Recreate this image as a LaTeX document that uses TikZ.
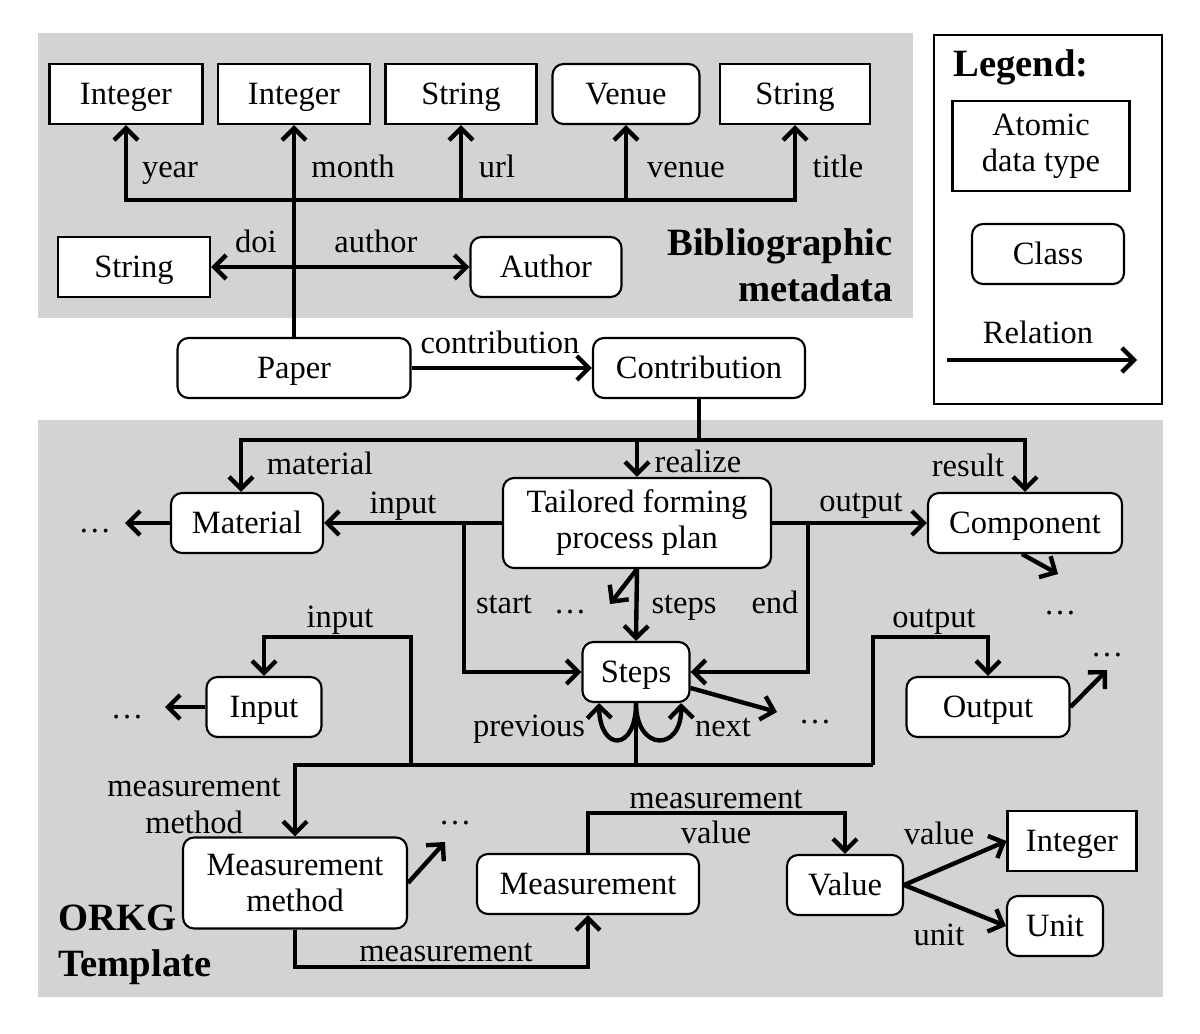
\documentclass[tikz,border=0pt]{standalone}
\usepackage{fontspec}
\setmainfont{Liberation Serif}
\usepackage{tikz}
\usetikzlibrary{arrows.meta, calc}
\definecolor{bggray}{RGB}{211,211,211}

\begin{document}
\begin{tikzpicture}[x=0.02cm, y=-0.02cm,
	font=\fontsize{18.5}{20.5}\selectfont,
	oneline/.style={text height=14pt, text depth=2pt},
	boxbase/.style={draw, line width=1.2pt, fill=white, minimum height=1.2cm, inner sep=2pt},
	atom/.style={boxbase, oneline},
	cls/.style={atom, rounded corners=0.22cm},
	atomm/.style={boxbase, align=center},
	clsm/.style={boxbase, align=center, rounded corners=0.22cm},
	rel/.style={line width=2.5pt, -{Straight Barb[length=2.4mm,width=4.8mm]}},
	both/.style={rel, {Straight Barb[length=2.4mm,width=4.8mm]}-{Straight Barb[length=2.4mm,width=4.8mm]}},
	line/.style={line width=2.5pt},
	lbl/.style={inner sep=1pt, oneline},
	head/.style={font=\fontsize{22}{26}\selectfont\bfseries}]
	\useasboundingbox (0,0) rectangle (1200,1034);
	% backgrounds
	\fill[bggray] (38,33) rectangle (913,318);
	\fill[bggray] (38,420) rectangle (1163,997);
	\draw[line width=1.1pt] (934,35) rectangle (1162,404);
	
	% bibliographic metadata
	\node[atom, minimum width=3.06cm](int1) at (126,94){Integer};
	\node[atom, minimum width=3.04cm](int2) at (294,94){Integer};
	\node[atom, minimum width=3.02cm](url) at (461,94){String};
	\node[cls, minimum width=2.94cm](venue) at (626,94){Venue};
	\node[atom, minimum width=3cm](title) at (795,94){String};
	\node[atom, minimum width=3.04cm](doi) at (134,267){String};
	\node[cls, minimum width=3.02cm](author) at (546,267){Author};
	\node[cls, minimum width=4.66cm](paper) at (294,368){Paper};
	\node[cls, minimum width=4.24cm](contrib) at (699,368){Contribution};
	\node[head, align=right, anchor=east](bib) at (899,265){Bibliographic\\metadata};
	
	\coordinate(bar) at (0,200);
	\draw[both] (int1.south) |- (title.south |- bar) -- (title.south);
	\draw[rel] (paper.north) -- (int2.south);
	\draw[rel] (url.south |- bar) -- (url.south);
	\draw[rel] (venue.south |- bar) -- (venue.south);
	\draw[both] (doi.east) -- (author.west);
	\draw[rel] (paper.east) -- (contrib.west);
	
	\node[lbl](year) at (170,167){year};
	\node[lbl](month) at (353,167){month};
	\node[lbl](urll) at (497,167){url};
	\node[lbl](venuel) at (686,167){venue};
	\node[lbl](titlel) at (838,167){title};
	\node[lbl](doil) at (256,242){doi};
	\node[lbl](authorl) at (376,242){author};
	\node[lbl](contribl) at (500,343){contribution};
	
	% legend
	\node[head](leg) at (1021,67){Legend:};
	\node[atomm, minimum width=3.54cm, minimum height=1.8cm](legatom) at (1041,146){Atomic\\data type};
	\node[cls, minimum width=3.04cm](legcls) at (1048,254){Class};
	\node[lbl](legrel) at (1038,333){Relation};
	\coordinate(legA) at (947,360);
	\coordinate(legB) at (1137,360);
	\draw[rel] (legA) -- (legB);
	
	% ORKG template
	\node[cls, minimum width=3.04cm](material) at (247,523){Material};
	\node[clsm, minimum width=5.36cm, minimum height=1.8cm](plan) at (637,523){Tailored forming\\process plan};
	\node[cls, minimum width=3.88cm](component) at (1025,523){Component};
	\node[cls, minimum width=2.14cm](steps) at (636,672){Steps};
	\node[cls, minimum width=2.3cm](input) at (264,707){Input};
	\node[cls, minimum width=3.26cm](output) at (988,707){Output};
	\node[clsm, minimum width=4.48cm, minimum height=1.82cm](method) at (295,883){Measurement\\method};
	\node[cls, minimum width=4.44cm](meas) at (588,884){Measurement};
	\node[cls, minimum width=2.32cm](value) at (845,885){Value};
	\node[atom, minimum width=2.58cm](int3) at (1072,841){Integer};
	\node[cls, minimum width=1.92cm](unit) at (1055,926){Unit};
	\node[head, align=left, anchor=west](orkg) at (52,945){ORKG\\Template};
	
	\coordinate(bbar) at (0,440);
	\draw[line] (contrib.south) -- (contrib.south |- bbar);
	\draw[both] ($(material.north)+(-6,0)$) |- (component.north |- bbar) -- (component.north);
	\draw[rel] (plan.north |- bbar) -- (plan.north);
	\draw[rel] (plan.west) -- (material.east);
	\draw[rel] (plan.east) -- (component.west);
	
	\coordinate(st) at (464,0);
	\coordinate(en) at (808,0);
	\draw[rel] (st |- plan.west) |- (steps.west);
	\draw[rel] (en |- plan.east) |- (steps.east);
	\draw[rel] (plan.south) -- (steps.north);
	\coordinate(planend) at (610,604);
	\draw[rel] (plan.south) -- (planend);
	\coordinate(stepsend) at (777,712);
	\draw[rel] ($(steps.east)+(0,16)$) -- (stepsend);
	\draw[rel] (steps.south) .. controls (636,752) and (600,752) .. ($(steps.south)+(-37,0)$);
	\draw[rel] (steps.south) .. controls (636,752) and (682,752) .. ($(steps.south)+(45,0)$);
	
	\coordinate(mbar) at (0,765);
	\coordinate(ink) at (411,637);
	\coordinate(outk) at (873,637);
	\draw[line] (steps.south) -- (steps.south |- mbar);
	\draw[rel] (ink |- mbar) -- (ink) -| (input.north);
	\draw[rel] (outk |- mbar) -- (outk) -| (output.north);
	\draw[rel] (outk |- mbar) -| (method.north);
	
	\coordinate(lowbar) at (0,967);
	\coordinate(vbar) at (0,813);
	\draw[rel] (method.south) |- (meas.south |- lowbar) -- (meas.south);
	\draw[rel] (meas.north) |- (value.north |- vbar) -- (value.north);
	\draw[rel] (value.east) -- (int3.west);
	\draw[rel] (value.east) -- (unit.west);
	
	% open ends
	\coordinate(matend) at (125,523);
	\coordinate(compend) at (1058,574);
	\coordinate(inend) at (165,707);
	\coordinate(outend) at (1107,670);
	\coordinate(methodend) at (445,842);
	\draw[rel] (material.west) -- (matend);
	\draw[rel] ($(component.south)+(-3,0)$) -- (compend);
	\draw[rel] (input.west) -- (inend);
	\draw[rel] (output.east) -- (outend);
	\draw[rel] (method.east) -- (methodend);
	
	\node[lbl](matdots) at (95,522){\ldots};
	\node[lbl](plandots) at (570,603){\ldots};
	\node[lbl](compdots) at (1060,604){\ldots};
	\node[lbl](stepsdots) at (815,713){\ldots};
	\node[lbl](indots) at (127,708){\ldots};
	\node[lbl](outdots) at (1107,646){\ldots};
	\node[lbl](methoddots) at (455,814){\ldots};
	
	\node[lbl](materiall) at (320,464){material};
	\node[lbl](realizel) at (698,462){realize};
	\node[lbl](resultl) at (968,466){result};
	\node[lbl](inputl) at (403,503){input};
	\node[lbl](outputl) at (861,501){output};
	\node[lbl](startl) at (504,603){start};
	\node[lbl](stepsl) at (684,603){steps};
	\node[lbl](endl) at (775,603){end};
	\node[lbl](input2l) at (340,617){input};
	\node[lbl](output2l) at (934,617){output};
	\node[lbl](prevl) at (529,726){previous};
	\node[lbl](nextl) at (723,726){next};
	\node[inner sep=1pt, align=center](methodl) at (194,806){measurement\\method};
	\node[lbl](meas1l) at (446,951){measurement};
	\node[lbl](meas2l) at (716,798){measurement};
	\node[lbl](value1l) at (716,833){value};
	\node[lbl](value2l) at (939,834){value};
	\node[lbl](unitl) at (939,935){unit};
\end{tikzpicture}
\end{document}
